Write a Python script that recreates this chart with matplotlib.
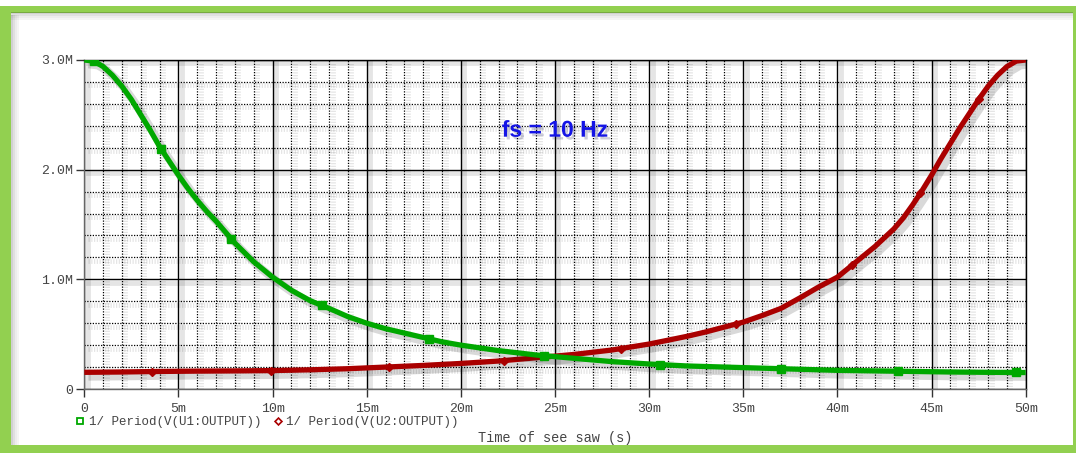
import numpy as np
import matplotlib
matplotlib.use("Agg")
import matplotlib.pyplot as plt
import matplotlib.patheffects as pe
from matplotlib.lines import Line2D
from matplotlib.patches import Rectangle

# ---- data (time in ms, frequency in M) ----
t_green = [0, 0.5, 1, 1.5, 2, 2.5, 3, 3.5, 4, 4.5, 5, 5.5, 6, 6.5, 7, 7.5, 8, 8.5, 9, 9.5, 10,
           11, 12, 13, 14, 15, 16, 17, 18, 19, 20,
           22, 24, 26, 28, 30, 32, 34, 36, 38, 40, 42, 44, 46, 48, 50]
v_green = [3.00, 2.99, 2.94, 2.86, 2.76, 2.64, 2.50, 2.36, 2.21, 2.08, 1.95, 1.83, 1.72, 1.62,
           1.53, 1.43, 1.33, 1.245, 1.16, 1.09, 1.02, 0.90, 0.805,
           0.735, 0.66, 0.60, 0.55, 0.51, 0.47, 0.43, 0.40, 0.35, 0.31, 0.28, 0.25, 0.228, 0.21,
           0.20, 0.19, 0.18, 0.17, 0.165, 0.16, 0.155, 0.152, 0.15]
t_red = [0, 2, 4, 6, 8, 10, 12, 14, 16, 18, 20, 22, 24, 26, 28, 30, 31, 32, 33, 34, 35, 36,
         37, 38, 39, 40, 40.5, 41, 41.5, 42, 42.5, 43, 43.5, 44, 44.5, 45, 45.5, 46, 46.5, 47,
         47.5, 48, 48.5, 49, 49.5, 50]
v_red = [0.152, 0.155, 0.16, 0.163, 0.165, 0.168, 0.175, 0.185, 0.20, 0.215, 0.233, 0.255,
         0.285, 0.315, 0.355, 0.41, 0.445, 0.48, 0.52, 0.565, 0.61, 0.67, 0.735, 0.83, 0.93,
         1.02, 1.09, 1.16, 1.23, 1.30, 1.38, 1.46, 1.56, 1.68, 1.81, 1.95, 2.10, 2.24, 2.38,
         2.51, 2.64, 2.76, 2.86, 2.94, 2.99, 3.00]
green_marker_t = [0.5, 4.1, 7.8, 12.6, 18.3, 24.4, 30.6, 37.0, 43.2, 49.5]
red_marker_t = [3.6, 9.9, 16.2, 22.3, 28.5, 34.6, 40.8, 44.4, 47.5]

x_ticks = [0, 5, 10, 15, 20, 25, 30, 35, 40, 45, 50]
x_labels = ["0", "5m", "10m", "15m", "20m", "25m", "30m", "35m", "40m", "45m", "50m"]
y_ticks = [0, 1, 2, 3]
y_labels = ["0", "1.0M", "2.0M", "3.0M"]
legend_labels = ["1/ Period(V(U1:OUTPUT))", "1/ Period(V(U2:OUTPUT))"]
x_title = "Time of see saw (s)"
note = "fs = 10 Hz"

GREEN = "#00A800"
RED = "#AA0000"
TXT = "#444444"
MONO = "Liberation Mono"

W, H = 1076, 453
fig = plt.figure(figsize=(W / 100, H / 100), dpi=100)
fig.patch.set_facecolor("white")

# green frame
fig.patches.append(Rectangle((0, 0), 1, 1 - 6 / H, transform=fig.transFigure,
                             facecolor="#92D050", edgecolor="none", zorder=-10))
fig.patches.append(Rectangle((11 / W, 8 / H), 1 - 14 / W, 1 - 21 / H, transform=fig.transFigure,
                             facecolor="white", edgecolor="none", zorder=-9))
# inner shadow (top / left)
for i, a in enumerate([0.18, 0.12, 0.07, 0.04]):
    fig.patches.append(Rectangle((11 / W, 1 - (14 + i * 2) / H), 1 - 14 / W, 2 / H,
                                 transform=fig.transFigure, facecolor="black", alpha=a,
                                 edgecolor="none", zorder=-8))
    fig.patches.append(Rectangle(((11 + i * 2) / W, 8 / H), 2 / W, 1 - 23 / H,
                                 transform=fig.transFigure, facecolor="black", alpha=a,
                                 edgecolor="none", zorder=-8))

left, right = 84.3 / W, 1025.7 / W
bottom, top = 1 - 389 / H, 1 - 60 / H
ax = fig.add_axes([left, bottom, right - left, top - bottom])
ax.set_facecolor("none")
ax.set_xlim(0, 50)
ax.set_ylim(0, 3.0)

shadow_grid = [pe.SimpleLineShadow(offset=(2.5, -2.5), shadow_color="black", alpha=0.10,
                                   linewidth=3.5), pe.Normal()]

# grid
for xm in np.arange(0, 51, 1):
    if xm % 5 == 0:
        ax.axvline(xm, color="black", lw=1.0, zorder=1, path_effects=shadow_grid)
    else:
        ax.axvline(xm, color="black", lw=0.9, ls=(0, (1, 1.2)), zorder=1, path_effects=shadow_grid)
for ym in np.arange(0, 3.01, 0.2):
    if abs(ym - round(ym)) < 1e-6:
        ax.axhline(ym, color="black", lw=1.0, zorder=1, path_effects=shadow_grid)
    else:
        ax.axhline(ym, color="black", lw=0.9, ls=(0, (1, 1.2)), zorder=1, path_effects=shadow_grid)

for s in ax.spines.values():
    s.set_color("black")
    s.set_linewidth(1.0)
ax.spines["left"].set_color("#666666")
ax.spines["bottom"].set_color("#666666")

ax.set_xticks(x_ticks)
ax.set_xticklabels(x_labels)
ax.set_yticks(y_ticks)
ax.set_yticklabels(y_labels)
ax.tick_params(axis="both", direction="out", length=6, width=1, color="#333333",
               labelcolor=TXT, labelsize=9.5, pad=2)
ax.tick_params(axis="x", pad=4)
for lab in ax.get_xticklabels() + ax.get_yticklabels():
    lab.set_family(MONO)

shadow_curve = [pe.SimpleLineShadow(offset=(3, -3), shadow_color="black", alpha=0.15,
                                    linewidth=6), pe.Normal()]
ax.plot(t_green, v_green, color=GREEN, lw=3.8, zorder=5, solid_capstyle="butt",
        solid_joinstyle="round", path_effects=shadow_curve)
ax.plot(t_red, v_red, color=RED, lw=3.8, zorder=4, solid_capstyle="butt",
        solid_joinstyle="round", path_effects=shadow_curve)
ax.plot(green_marker_t, np.interp(green_marker_t, t_green, v_green), ls="none",
        marker="s", ms=6, color=GREEN, zorder=6)
ax.plot(red_marker_t, np.interp(red_marker_t, t_red, v_red), ls="none",
        marker="D", ms=4, color=RED, zorder=6)

ax.text(25, 2.36, note, color="#1414E6", fontsize=16.5, fontweight="bold",
        family="Liberation Sans", ha="center", va="center", zorder=7,
        path_effects=[pe.SimplePatchShadow(offset=(2, -2), alpha=0.2), pe.Normal()])

handles = [Line2D([], [], ls="none", marker="s", ms=4.5, mfc="none", mec=GREEN, mew=1.3),
           Line2D([], [], ls="none", marker="D", ms=3.5, mfc="none", mec=RED, mew=1.2)]
leg = fig.legend(handles, legend_labels, loc="center left", bbox_to_anchor=(69 / W, 1 - 422 / H),
                 ncol=2, frameon=False, handlelength=0.8, handletextpad=0.3, columnspacing=0.9,
                 borderpad=0, prop={"family": MONO, "size": 9.0})
for t in leg.get_texts():
    t.set_color(TXT)

fig.text((84.3 + 1025.7) / 2 / W, 1 - 438 / H, x_title, family=MONO, fontsize=9.8,
         color=TXT, ha="center", va="center")

fig.savefig("out.png", dpi=100, facecolor=fig.get_facecolor())
